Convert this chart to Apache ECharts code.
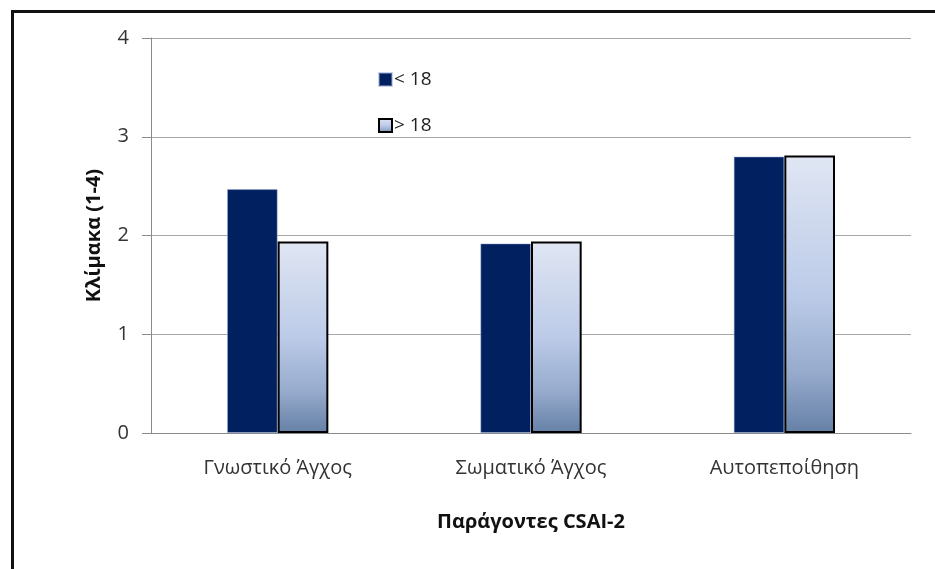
<!DOCTYPE html>
<html>
<head>
<meta charset="utf-8">
<script src="https://cdn.jsdelivr.net/npm/echarts@6/dist/echarts.min.js"></script>
<style>
  html, body { margin: 0; padding: 0; background: #fff; }
  #chart { width: 935px; height: 569px; }
</style>
</head>
<body>
<div id="chart"></div>
<script>
// CSAI-2 factor scores by age group
const categories = ['Γνωστικό Άγχος', 'Σωματικό Άγχος', 'Αυτοπεποίθηση'];
const under18 = [2.47, 1.92, 2.80];
const over18 = [1.94, 1.94, 2.81];
const seriesNames = ['< 18', '> 18'];

const FONT = '"Open Sans", sans-serif';

const chart = echarts.init(document.getElementById('chart'), null, { renderer: 'canvas' });

const lightFill = new echarts.graphic.LinearGradient(0, 0, 0, 1, [
  { offset: 0, color: '#e0e6f3' },
  { offset: 0.5, color: '#bccbe8' },
  { offset: 0.78, color: '#97abcd' },
  { offset: 1, color: '#6580a6' }
]);

chart.setOption({
  animation: false,
  backgroundColor: '#ffffff',
  graphic: [{
    type: 'rect',
    left: 10, top: 9,
    shape: { width: 940, height: 580 },
    style: { fill: 'none', stroke: '#111', lineWidth: 3 },
    silent: true
  }],
  grid: { left: 151, right: 24, top: 38, bottom: 136 },
  legend: {
    orient: 'vertical',
    left: 373, top: 65,
    icon: 'rect',
    itemWidth: 13, itemHeight: 13,
    itemGap: 27,
    data: seriesNames,
    textStyle: { fontFamily: FONT, fontSize: 19, color: '#222', padding: [0, 0, 0, -3] }
  },
  xAxis: {
    type: 'category',
    data: categories,
    axisLine: { lineStyle: { color: '#8a8a8a', width: 1 } },
    axisTick: { show: false },
    axisLabel: { fontFamily: FONT, fontSize: 20, color: '#333', margin: 25 },
    name: 'Παράγοντες CSAI-2',
    nameLocation: 'middle',
    nameGap: 79,
    nameTextStyle: { fontFamily: FONT, fontSize: 20, fontWeight: 'bold', color: '#111' }
  },
  yAxis: {
    type: 'value',
    min: 0, max: 4, interval: 1,
    axisLine: { show: true, lineStyle: { color: '#8a8a8a', width: 1 } },
    axisTick: { show: true, length: 9, lineStyle: { color: '#8a8a8a' } },
    splitLine: { lineStyle: { color: '#a8a8a8', width: 1 } },
    axisLabel: { fontFamily: FONT, fontSize: 20, color: '#333', margin: 22 },
    name: 'Κλίμακα (1-4)',
    nameLocation: 'middle',
    nameGap: 47,
    nameTextStyle: { fontFamily: FONT, fontSize: 20, fontWeight: 'bold', color: '#111' }
  },
  series: [
    {
      name: seriesNames[0],
      type: 'bar',
      data: under18,
      barWidth: '20%',
      barGap: '0%',
      itemStyle: { color: '#002060', borderColor: 'rgba(150,170,210,0.5)', borderWidth: 1 }
    },
    {
      name: seriesNames[1],
      type: 'bar',
      data: over18,
      barWidth: '20%',
      barGap: '0%',
      itemStyle: { color: lightFill, borderColor: '#000', borderWidth: 2 }
    }
  ]
});
</script>
</body>
</html>
